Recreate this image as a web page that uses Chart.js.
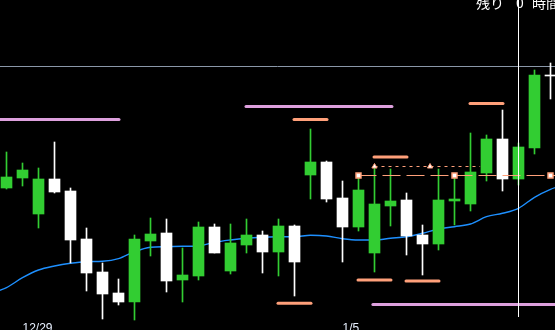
<!DOCTYPE html>
<html>
<head>
<meta charset="utf-8">
<script src="https://cdn.jsdelivr.net/npm/chart.js@4/dist/chart.umd.min.js"></script>
<style>
  html, body { margin: 0; padding: 0; background: #000; overflow: hidden; }
  canvas { display: block; }
</style>
</head>
<body>
<canvas id="chart" width="555" height="330"></canvas>
<script>
// candles, values (arbitrary price units)
const opens  = [142, 152, 116, 151, 139, 91, 58, 37, 28, 89, 97, 50, 54, 103, 59, 85, 95, 78, 104, 155, 168, 132, 103, 77, 124, 130, 95, 86, 129, 126, 157, 191, 151, 182, 255]
const highs  = [178, 167, 162, 188, 142, 102, 67, 51, 95, 112, 111, 82, 108, 106, 106, 111, 99, 111, 105, 201, 169, 149, 154, 164, 161, 137, 105, 161, 155, 197, 195, 220, 187, 260, 267]
const lows   = [141, 144, 102, 137, 67, 39, 11, 25, 10, 74, 38, 28, 50, 77, 56, 77, 57, 54, 34, 131, 128, 68, 99, 58, 104, 75, 55, 80, 105, 119, 149, 139, 145, 176, 231]
const closes = [153, 160, 151, 138, 90, 57, 36, 28, 91, 96, 49, 55, 103, 77, 87, 95, 78, 104, 68, 168, 131, 103, 140, 126, 129, 94, 86, 130, 131, 158, 191, 151, 183, 255, 254]

// moving average, first value sits one bar before the first candle
const maStart = -1
const maValues = [36.5, 42.3, 52.3, 60, 64, 66.7, 68.3, 68.7, 71.3, 78.3, 82.7, 83.3, 83.7, 84, 87.7, 90, 91.7, 92.7, 93.3, 93.3, 94.7, 94, 91.3, 90, 90, 91.7, 93.3, 96.7, 101, 103.3, 106, 113.3, 116.7, 121.7, 132.7, 140.7, 146]

// x axis labels
const tickIdx = [1, 21]
const tickLabels = ["12/29", "1/5"]

// short swing marks (bar index, level)
const swingIdx = [18, 19, 23, 24, 26, 30]
const swingLevel = [26.7, 210.5, 50, 173, 49, 226.5]

// long level lines
const levelFrom = [-1, 14.97, 22.9]
const levelTo = [7.03, 24.09, 35]
const levelValue = [210.5, 223.5, 25.5]

// dotted line with arrow marks
const dotIdx = [23, 26.47, 29.6]
const dotLevel = 163.5
// dashed line with square marks
const dashIdx = [22, 28, 34, 34.6]
const dashLevel = 154.5

const crossLevel = 263.5
const cursorIdx = 32

const green = "#32cd32"
const salmon = "#ffa07a"
const plum = "#dda0dd"

function candleColors() {
  return opens.map((o, i) => (closes[i] > o ? green : "#ffffff"))
}

function buildDatasets() {
  const colors = candleColors()
  const sets = []

  sets.push({
    type: "bar",
    data: opens.map((o, i) => ({ x: i, y: [lows[i], highs[i]] })),
    backgroundColor: colors,
    barThickness: 1,
    grouped: false,
    order: 1,
  })
  sets.push({
    type: "bar",
    data: opens.map((o, i) => ({ x: i, y: [Math.min(o, closes[i]), Math.max(o, closes[i])] })),
    backgroundColor: colors,
    barThickness: 11,
    grouped: false,
    order: 0,
  })

  sets.push({
    type: "line",
    data: maValues.map((v, i) => ({ x: maStart + i, y: v })),
    borderColor: "#1e90ff",
    borderWidth: 1.4,
    pointRadius: 0,
    cubicInterpolationMode: "monotone",
    order: 5,
  })

  sets.push({
    type: "line",
    data: [{ x: -1, y: crossLevel }, { x: 35, y: crossLevel }],
    borderColor: "#8a97a8",
    borderWidth: 1,
    pointRadius: 0,
    order: 6,
  })

  levelValue.forEach((v, k) => {
    sets.push({
      type: "line",
      data: [{ x: levelFrom[k], y: v }, { x: levelTo[k], y: v }],
      borderColor: plum,
      borderWidth: 3,
      borderCapStyle: "round",
      pointRadius: 0,
      order: -1,
    })
  })

  swingIdx.forEach((c, k) => {
    sets.push({
      type: "line",
      data: [{ x: c - 1.03, y: swingLevel[k] }, { x: c + 1.03, y: swingLevel[k] }],
      borderColor: salmon,
      borderWidth: 3,
      borderCapStyle: "round",
      pointRadius: 0,
      order: -1,
    })
  })

  sets.push({
    type: "line",
    data: dotIdx.map((x) => ({ x: x, y: dotLevel })),
    borderColor: salmon,
    borderWidth: 1,
    borderDash: [3, 4],
    pointStyle: "triangle",
    pointRadius: [3, 3, 0],
    pointBackgroundColor: "#ffffff",
    pointBorderColor: salmon,
    pointBorderWidth: 1,
    order: -1,
  })

  sets.push({
    type: "line",
    data: dashIdx.map((x) => ({ x: x, y: dashLevel })),
    borderColor: salmon,
    borderWidth: 1,
    borderDash: [18, 6],
    pointStyle: "rect",
    pointRadius: [3.5, 3.5, 3.5, 0],
    pointBackgroundColor: "#ffffff",
    pointBorderColor: salmon,
    pointBorderWidth: 1.5,
    order: -1,
  })

  sets.push({
    type: "line",
    data: [{ x: cursorIdx, y: 13 }, { x: cursorIdx, y: 340 }],
    borderColor: "#ffffff",
    borderWidth: 1,
    pointRadius: 0,
    order: -2,
  })

  return sets
}

const topTextPlugin = {
  id: "topText",
  afterDraw(chart) {
    const ctx = chart.ctx
    ctx.save()
    ctx.fillStyle = "#ffffff"
    ctx.font = '14px "Noto Sans CJK JP"'
    ctx.textBaseline = "alphabetic"
    ctx.textAlign = "left"
    ctx.fillText("残り", 476, 8)
    ctx.fillText("0", 516, 8)
    ctx.fillText("時間", 532, 8)
    ctx.restore()
  },
}

new Chart(document.getElementById("chart"), {
  type: "bar",
  data: { datasets: buildDatasets() },
  options: {
    responsive: false,
    animation: false,
    events: [],
    layout: { padding: 0, autoPadding: false },
    plugins: { legend: { display: false }, tooltip: { enabled: false } },
    scales: {
      x: {
        type: "linear",
        offset: false,
        min: -0.40625,
        max: 34.28125,
        grid: { display: false, drawTicks: false },
        border: { display: false },
        afterBuildTicks: (scale) => {
          scale.ticks = tickIdx.map((v) => ({ value: v }))
        },
        afterFit: (scale) => {
          scale.height = 9
          scale.paddingLeft = 0
          scale.paddingRight = 0
        },
        ticks: {
          align: "start",
          padding: 0,
          maxRotation: 0,
          autoSkip: false,
          color: "#e8f0ff",
          font: { family: "Liberation Sans", size: 12 },
          callback: (val) => tickLabels[tickIdx.indexOf(val)],
        },
      },
      y: {
        display: false,
        min: 9,
        max: 330,
      },
    },
  },
  plugins: [topTextPlugin],
})
</script>
</body>
</html>
